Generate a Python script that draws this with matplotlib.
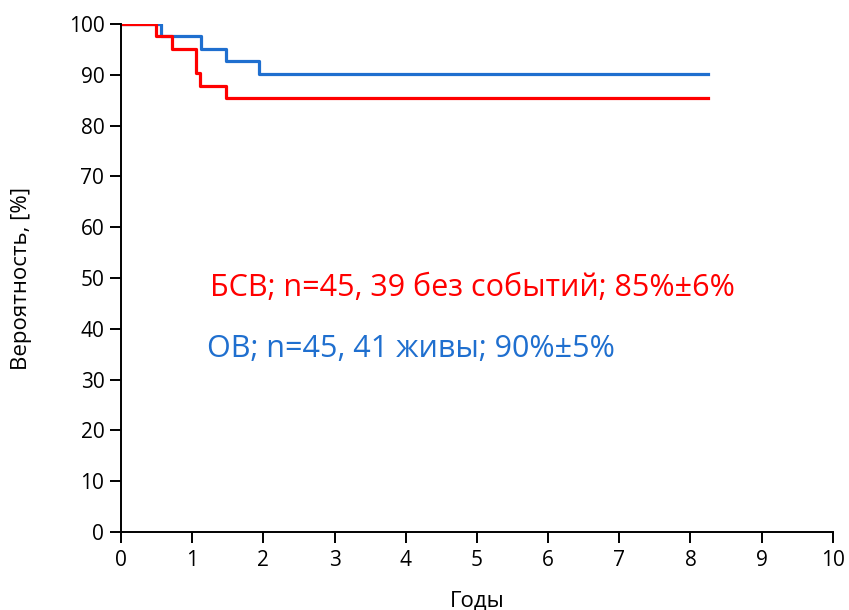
import matplotlib.pyplot as plt

plt.rcParams['font.family'] = ['Open Sans', 'DejaVu Sans']

# Event-free survival (red) step curve
efs_t = [0, 0.49, 0.71, 1.05, 1.11, 1.47, 8.25]
efs_p = [100, 97.6, 95.1, 90.3, 87.8, 85.4, 85.4]

# Overall survival (blue) step curve
os_t = [0, 0.56, 1.13, 1.47, 1.94, 8.25]
os_p = [100, 97.6, 95.1, 92.7, 90.2, 90.2]

efs_label = "БСВ; n=45, 39 без событий; 85%±6%"
os_label = "ОВ; n=45, 41 живы; 90%±5%"

red = '#ff0000'
blue = '#1f6fcf'

fig = plt.figure(figsize=(8.49, 6.10), dpi=100)
ax = fig.add_axes([0.1425, 0.128, 0.8385, 0.8325])

ax.step(os_t, os_p, where='post', color=blue, lw=2.3)
ax.step(efs_t, efs_p, where='post', color=red, lw=2.3)

ax.text(0.125, 0.48, efs_label, transform=ax.transAxes, color=red, fontsize=22, va='center')
ax.text(0.121, 0.36, os_label, transform=ax.transAxes, color=blue, fontsize=22, va='center')

ax.set_xlim(0, 10)
ax.set_ylim(0, 100)
ax.set_xticks(range(0, 11))
ax.set_yticks(range(0, 101, 10))
ax.spines['top'].set_visible(False)
ax.spines['right'].set_visible(False)
ax.spines['left'].set_linewidth(1.4)
ax.spines['bottom'].set_linewidth(1.4)
ax.tick_params(direction='out', length=8, width=1.4, labelsize=15, colors='black', pad=4)
ax.tick_params(axis='x', pad=5)
ax.set_xlabel("Годы", fontsize=16, labelpad=14)
ax.set_ylabel("Вероятность, [%]", fontsize=16, labelpad=26)

fig.savefig('out.png', dpi=100)
